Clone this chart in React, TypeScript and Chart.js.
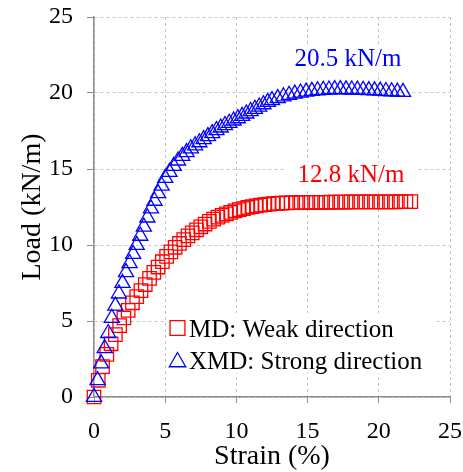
import React, { useEffect, useRef } from 'react';
import { Chart, registerables } from 'chart.js';

Chart.register(...registerables);

const FONT = '"Liberation Serif", "Times New Roman", serif';

const seriesLabels = ['MD: Weak direction', 'XMD: Strong direction'];
const seriesColors = ['#ff0000', '#0000ff'];

const mdStrain = [
  0, 0.3, 0.6, 0.9, 1.2, 1.5, 1.8, 2.1, 2.4, 2.7, 3.0, 3.3, 3.6, 3.9, 4.2, 4.5, 4.8, 5.1, 5.4, 5.7,
  6.0, 6.3, 6.6, 6.9, 7.2, 7.5, 7.8, 8.1, 8.4, 8.7, 9.0, 9.3, 9.6, 9.9, 10.2, 10.5, 10.8, 11.1, 11.4,
  11.7, 12.0, 12.3, 12.6, 12.9, 13.2,
  13.5, 13.85, 14.2, 14.55, 14.9, 15.25, 15.6, 15.95, 16.3, 16.65, 17.0, 17.35, 17.7, 18.05, 18.4,
  18.75, 19.1, 19.45, 19.8, 20.15, 20.5, 20.85, 21.2, 21.55, 21.9, 22.25,
];
const mdLoad = [
  0, 1.1, 2.0, 2.8, 3.5, 4.1, 4.7, 5.2, 5.7, 6.2, 6.6, 7.0, 7.4, 7.8, 8.2, 8.55, 8.9, 9.25, 9.55, 9.85,
  10.1, 10.35, 10.6, 10.8, 11.0, 11.2, 11.38, 11.55, 11.7, 11.83, 11.95, 12.05, 12.15, 12.25, 12.33,
  12.4, 12.47, 12.53, 12.58, 12.62, 12.66, 12.69, 12.72, 12.74, 12.76,
  12.77, 12.78, 12.79, 12.8, 12.8, 12.8, 12.81, 12.81, 12.81, 12.82, 12.82, 12.82, 12.82, 12.83, 12.83,
  12.83, 12.83, 12.83, 12.84, 12.84, 12.84, 12.84, 12.84, 12.85, 12.85, 12.85,
];

const xmdStrain = [
  0, 0.25, 0.5, 0.75, 1.0, 1.25, 1.5, 1.75, 2.0, 2.25, 2.5, 2.75, 3.0, 3.25, 3.5, 3.75, 4.0, 4.25, 4.5,
  4.75, 5.0,
  5.3, 5.6, 5.9, 6.2, 6.5, 6.8, 7.1, 7.4, 7.7, 8.0, 8.3, 8.6, 8.9, 9.2, 9.5, 9.8, 10.1, 10.4, 10.7, 11.0,
  11.3, 11.6, 11.9, 12.2, 12.5,
  12.9, 13.3, 13.7, 14.1, 14.5, 14.9, 15.3, 15.7, 16.1, 16.5, 16.9, 17.3, 17.7, 18.1, 18.5, 18.9, 19.3,
  19.7, 20.1, 20.5, 20.9, 21.3, 21.7,
];
const xmdLoad = [
  0, 1.1, 2.2, 3.2, 4.2, 5.2, 6.0, 6.8, 7.5, 8.2, 8.8, 9.4, 10.0, 10.6, 11.2, 11.8, 12.4, 12.9, 13.4,
  13.9, 14.4,
  14.8, 15.2, 15.55, 15.85, 16.1, 16.35, 16.55, 16.75, 16.95, 17.15, 17.35, 17.55, 17.72, 17.88, 18.03,
  18.18, 18.33, 18.48, 18.64, 18.8, 18.95, 19.1, 19.25, 19.4, 19.52,
  19.65, 19.77, 19.87, 19.95, 20.02, 20.08, 20.13, 20.17, 20.2, 20.22, 20.24, 20.24, 20.23, 20.22,
  20.21, 20.2, 20.18, 20.16, 20.14, 20.12, 20.1, 20.08, 20.06,
];

const xTicks = [0, 5, 10, 15, 20, 25];
const yTicks = [0, 5, 10, 15, 20, 25];

const peakLabels = ['12.8 kN/m', '20.5 kN/m'];
const peakLabelX = [18.05, 17.84];
const peakLabelY = [14.6, 22.2];

function drawMarker(ctx: CanvasRenderingContext2D, style: string, x: number, y: number, r: number) {
  ctx.beginPath();
  if (style === 'rect') {
    const s = Math.SQRT1_2 * r;
    ctx.rect(x - s, y - s, 2 * s, 2 * s);
  } else {
    let rad = 0;
    ctx.moveTo(x + Math.sin(rad) * r, y - Math.cos(rad) * r);
    rad += (2 * Math.PI) / 3;
    ctx.lineTo(x + Math.sin(rad) * r, y - Math.cos(rad) * r);
    rad += (2 * Math.PI) / 3;
    ctx.lineTo(x + Math.sin(rad) * r, y - Math.cos(rad) * r);
    ctx.closePath();
  }
  ctx.stroke();
}

const overlayPlugin = {
  id: 'overlay',
  beforeDatasetsDraw(chart: any) {
    const ctx: CanvasRenderingContext2D = chart.ctx;
    const xs = chart.scales.x;
    const ys = chart.scales.y;
    ctx.save();
    ctx.font = `25px ${FONT}`;
    ctx.textAlign = 'center';
    ctx.textBaseline = 'middle';
    peakLabels.forEach((t, i) => {
      const px = xs.getPixelForValue(peakLabelX[i]);
      const py = ys.getPixelForValue(peakLabelY[i]);
      const w = ctx.measureText(t).width;
      ctx.fillStyle = '#ffffff';
      ctx.fillRect(px - w / 2 - 12, py - 13, w + 24, 26);
      ctx.fillStyle = seriesColors[i];
      ctx.fillText(t, px, py);
    });
    const ca = chart.chartArea;
    const boxLeft = ca.left + 73;
    const boxTop = ca.bottom - 84;
    ctx.fillStyle = '#ffffff';
    ctx.fillRect(boxLeft, boxTop, 270, 60);
    const ds = chart.data.datasets;
    ctx.textAlign = 'left';
    ctx.textBaseline = 'alphabetic';
    ctx.lineWidth = 1.3;
    const rows = [
      { cy: boxTop + 15, r: 10.5, base: boxTop + 24 },
      { cy: boxTop + 49, r: 9.5, base: boxTop + 56 },
    ];
    ds.forEach((d: any, i: number) => {
      const row = rows[i];
      ctx.strokeStyle = d.borderColor;
      drawMarker(ctx, d.pointStyle, boxLeft + 10.5, row.cy, row.r);
      ctx.fillStyle = '#000000';
      ctx.fillText(d.label, boxLeft + 22, row.base);
    });
    ctx.restore();
  },
};

export default function App() {
  const ref = useRef<HTMLCanvasElement | null>(null);
  useEffect(() => {
    if (!ref.current) return;
    const chart = new Chart(ref.current, {
      type: 'scatter',
      data: {
        datasets: [
          {
            label: seriesLabels[0],
            data: mdStrain.map((x, i) => ({ x, y: mdLoad[i] })),
            pointStyle: 'rect',
            pointRadius: 9.5,
            pointHoverRadius: 9.5,
            borderColor: seriesColors[0],
            backgroundColor: 'rgba(0,0,0,0)',
            pointBorderWidth: 1.3,
            showLine: false,
            clip: false,
            order: 1,
          },
          {
            label: seriesLabels[1],
            data: xmdStrain.map((x, i) => ({ x, y: xmdLoad[i] })),
            pointStyle: 'triangle',
            pointRadius: 8.7,
            pointHoverRadius: 8.7,
            borderColor: seriesColors[1],
            backgroundColor: 'rgba(0,0,0,0)',
            pointBorderWidth: 1.3,
            showLine: false,
            clip: false,
            order: 0,
          },
        ],
      } as any,
      options: {
        animation: false,
        responsive: false,
        devicePixelRatio: 1,
        events: [],
        layout: { padding: 0 },
        plugins: {
          legend: { display: false },
          tooltip: { enabled: false },
        },
        scales: {
          x: {
            type: 'linear',
            min: 0,
            max: 25,
            afterBuildTicks: (s: any) => {
              s.ticks = xTicks.map((v) => ({ value: v }));
            },
            afterFit: (s: any) => {
              s.height = 75;
              s.paddingLeft = 0;
              s.paddingRight = 13;
            },
            ticks: {
              font: { family: FONT, size: 24 },
              color: '#000000',
              padding: 14,
              maxRotation: 0,
              autoSkip: false,
            },
            grid: { color: '#c4c4c4', lineWidth: 1, tickLength: 6, tickColor: '#8c8c8c' },
            border: { display: true, color: '#8c8c8c', width: 1.5, dash: [3, 3] },
            title: {
              display: true,
              text: 'Strain (%)',
              font: { family: FONT, size: 28, lineHeight: 1.1 },
              color: '#000000',
              padding: { top: 0, bottom: 0 },
            },
          },
          y: {
            type: 'linear',
            min: 0,
            max: 25,
            afterBuildTicks: (s: any) => {
              s.ticks = yTicks.map((v) => ({ value: v }));
            },
            afterFit: (s: any) => {
              s.width = 94;
              s.paddingTop = 17;
              s.paddingBottom = 0;
            },
            ticks: {
              font: { family: FONT, size: 24 },
              color: '#000000',
              padding: 14,
              autoSkip: false,
            },
            grid: { color: '#c4c4c4', lineWidth: 1, tickLength: 7, tickColor: '#8c8c8c' },
            border: { display: true, color: '#8c8c8c', width: 1.5, dash: [3, 3] },
            title: {
              display: true,
              text: 'Load (kN/m)',
              font: { family: FONT, size: 28 },
              color: '#000000',
              padding: { top: 16, bottom: 0 },
            },
          },
        },
      } as any,
      plugins: [overlayPlugin],
    });
    return () => chart.destroy();
  }, []);
  return (
    <div style={{ position: 'fixed', left: 0, top: 0, width: 463, height: 472, background: '#ffffff' }}>
      <canvas ref={ref} width={463} height={472} style={{ display: 'block' }} />
    </div>
  );
}
